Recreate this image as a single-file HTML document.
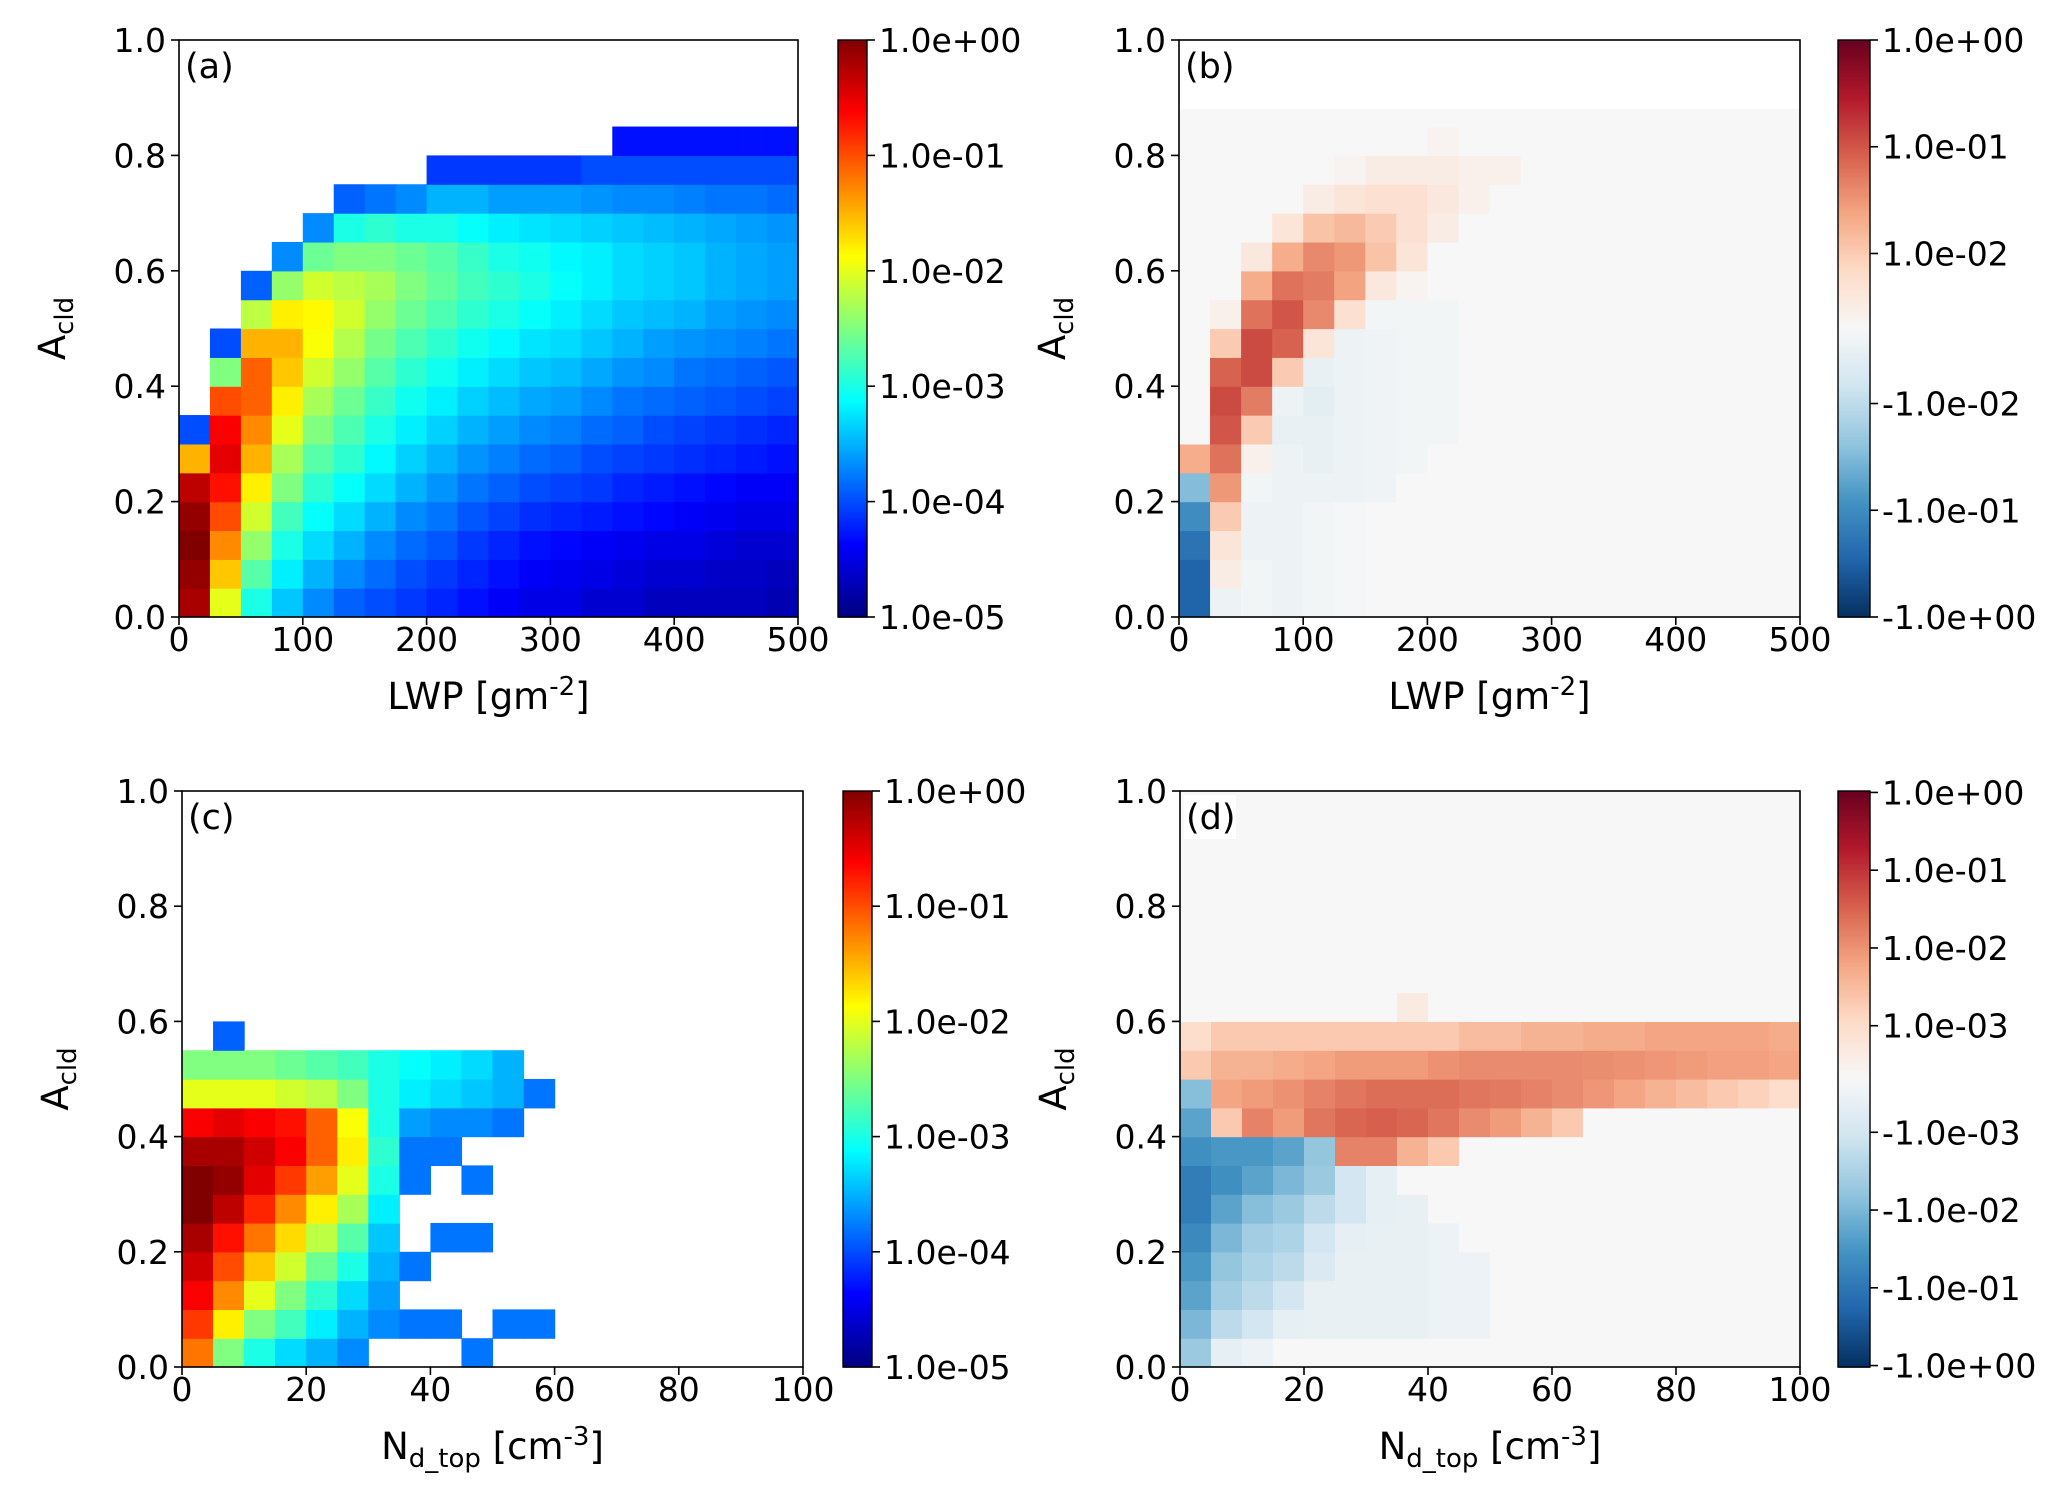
<!DOCTYPE html>
<html><head><meta charset="utf-8"><style>
html,body{margin:0;padding:0;background:#fff}
svg{display:block}
text{font-family:"DejaVu Sans","Liberation Sans",sans-serif;fill:#000}
</style></head><body>
<svg id="fig" width="2067" height="1509" viewBox="0 0 2067 1509" xmlns="http://www.w3.org/2000/svg"></svg>
<script>
// ---------- DATA ----------
// Panel (a): log10 density, columns of LWP bins (25 g/m2 wide), rows of A_cld bins (0.05) from bottom
const aXTicks=[0,100,200,300,400,500];
const aCols=[
[-0.2,-0.1,0,-0.1,-0.3,-1.5,-4.0],
[-2.0,-1.6,-1.3,-1.0,-0.7,-0.5,-0.6,-1.0,-2.5,-4.0],
[-3.0,-2.7,-2.4,-2.1,-1.8,-1.5,-1.3,-1.1,-1.1,-1.5,-2.2,-3.9],
[-3.4,-3.2,-3.0,-2.8,-2.5,-2.3,-2.0,-1.8,-1.6,-1.5,-1.8,-2.4,-3.7],
[-3.7,-3.5,-3.3,-3.1,-2.9,-2.7,-2.5,-2.3,-2.1,-1.9,-1.85,-2.1,-2.6,-3.7],
[-3.9,-3.7,-3.5,-3.3,-3.1,-2.9,-2.75,-2.6,-2.4,-2.25,-2.1,-2.2,-2.5,-3.0,-3.9],
[-4.0,-3.85,-3.7,-3.5,-3.3,-3.15,-3.0,-2.85,-2.7,-2.55,-2.4,-2.3,-2.5,-2.9,-3.8],
[-4.1,-4.0,-3.85,-3.7,-3.5,-3.35,-3.2,-3.05,-2.9,-2.75,-2.6,-2.5,-2.6,-3.0,-3.7],
[-4.2,-4.1,-3.95,-3.8,-3.65,-3.5,-3.35,-3.2,-3.05,-2.9,-2.75,-2.65,-2.7,-3.0,-3.5,-4.1],
[-4.3,-4.2,-4.1,-3.95,-3.8,-3.65,-3.5,-3.35,-3.2,-3.05,-2.9,-2.8,-2.85,-3.1,-3.5,-4.1],
[-4.4,-4.3,-4.2,-4.05,-3.9,-3.75,-3.6,-3.45,-3.3,-3.15,-3.0,-2.9,-3.0,-3.2,-3.6,-4.1],
[-4.5,-4.4,-4.3,-4.15,-4.0,-3.85,-3.7,-3.55,-3.4,-3.25,-3.1,-3.0,-3.05,-3.25,-3.6,-4.1],
[-4.5,-4.45,-4.35,-4.2,-4.05,-3.9,-3.75,-3.6,-3.45,-3.3,-3.2,-3.1,-3.15,-3.3,-3.6,-4.1],
[-4.6,-4.5,-4.4,-4.25,-4.1,-4.0,-3.85,-3.7,-3.55,-3.4,-3.3,-3.2,-3.2,-3.35,-3.65,-4.0],
[-4.6,-4.55,-4.45,-4.3,-4.2,-4.05,-3.9,-3.8,-3.65,-3.5,-3.4,-3.3,-3.3,-3.4,-3.7,-4.0,-4.3],
[-4.7,-4.6,-4.5,-4.35,-4.25,-4.1,-4.0,-3.85,-3.7,-3.6,-3.45,-3.35,-3.35,-3.45,-3.7,-4.0,-4.3],
[-4.7,-4.6,-4.5,-4.4,-4.3,-4.15,-4.05,-3.9,-3.8,-3.65,-3.5,-3.4,-3.4,-3.5,-3.75,-4.0,-4.3],
[-4.7,-4.65,-4.55,-4.45,-4.35,-4.2,-4.1,-3.95,-3.85,-3.7,-3.6,-3.5,-3.5,-3.55,-3.8,-4.0,-4.3],
[-4.7,-4.65,-4.6,-4.5,-4.4,-4.25,-4.15,-4.0,-3.9,-3.75,-3.65,-3.55,-3.55,-3.6,-3.8,-4.0,-4.3],
[-4.75,-4.7,-4.6,-4.5,-4.4,-4.3,-4.2,-4.05,-3.95,-3.8,-3.7,-3.6,-3.6,-3.65,-3.85,-4.0,-4.3]
];
// Panel (b): difference values, LWP bins 25 wide, A_cld bins 0.05
const bCols=[
[-0.3,-0.3,-0.2,-0.1,-0.03,0.02,0,0,0,0,0,0,0,0,0,0,0,0],
[-0.002,0.003,0.005,0.01,0.03,0.06,0.1,0.12,0.08,0.01,0.002,0,0,0,0,0,0,0],
[-0.001,-0.001,-0.002,-0.002,-0.001,0.002,0.01,0.05,0.12,0.12,0.06,0.02,0.004,0,0,0,0,0],
[-0.002,-0.002,-0.002,-0.002,-0.002,-0.002,-0.003,-0.002,0.01,0.08,0.1,0.06,0.02,0.005,0,0,0,0],
[-0.001,-0.001,-0.001,-0.001,-0.002,-0.003,-0.003,-0.004,-0.003,0.005,0.04,0.05,0.04,0.012,0.003,0,0,0],
[-0.0005,-0.0005,-0.0005,-0.0005,-0.002,-0.002,-0.002,-0.002,-0.002,-0.002,0.006,0.025,0.03,0.015,0.005,0.001,0,0],
[0,0,0,0,-0.0015,-0.0015,-0.0015,-0.0015,-0.0015,-0.0015,-0.001,0.004,0.012,0.01,0.006,0.003,0,0],
[0,0,0,0,0,-0.001,-0.001,-0.001,-0.001,-0.001,-0.001,0.001,0.005,0.006,0.006,0.003,0,0],
[0,0,0,0,0,0,-0.001,-0.001,-0.001,-0.001,-0.001,0,0,0.003,0.004,0.003,0.001,0],
[0,0,0,0,0,0,0,0,0,0,0,0,0,0,0.002,0.002,0,0],
[0,0,0,0,0,0,0,0,0,0,0,0,0,0,0,0.002,0,0],
[0,0,0,0,0,0,0,0,0,0,0,0,0,0,0,0,0,0],
[0,0,0,0,0,0,0,0,0,0,0,0,0,0,0,0,0,0],
[0,0,0,0,0,0,0,0,0,0,0,0,0,0,0,0,0,0],
[0,0,0,0,0,0,0,0,0,0,0,0,0,0,0,0,0,0],
[0,0,0,0,0,0,0,0,0,0,0,0,0,0,0,0,0,0],
[0,0,0,0,0,0,0,0,0,0,0,0,0,0,0,0,0,0],
[0,0,0,0,0,0,0,0,0,0,0,0,0,0,0,0,0,0],
[0,0,0,0,0,0,0,0,0,0,0,0,0,0,0,0,0,0],
[0,0,0,0,0,0,0,0,0,0,0,0,0,0,0,0,0,0]
];
// Panel (c): log10 density, N_d_top bins (5 cm-3), A_cld bins 0.05
const cXTicks=[0,20,40,60,80,100];
const cCols=[
[-1.2,-0.9,-0.6,-0.4,-0.2,0,0,-0.2,-0.6,-2.0,-2.5,null],
[-2.5,-1.8,-1.3,-1.0,-0.7,-0.3,-0.1,-0.2,-0.5,-2.0,-2.5,-3.9],
[-3.0,-2.5,-2.0,-1.6,-1.2,-0.8,-0.5,-0.4,-0.6,-2.0,-2.5,null],
[-3.3,-2.8,-2.5,-2.1,-1.7,-1.3,-0.9,-0.6,-0.7,-2.1,-2.6,null],
[-3.5,-3.2,-2.9,-2.6,-2.2,-1.8,-1.4,-1.1,-1.1,-2.2,-2.7,null],
[-3.7,-3.5,-3.3,-3.0,-2.7,-2.3,-2.0,-1.8,-1.9,-2.5,-2.8,null],
[null,-3.7,-3.6,-3.5,-3.4,-3.2,-3.0,-2.9,-3.0,-3.0,-3.0,null],
[null,-3.8,null,-3.8,null,null,-3.8,-3.8,-3.6,-3.2,-3.1,null],
[null,-3.8,null,null,-3.8,null,null,-3.8,-3.7,-3.3,-3.2,null],
[-3.8,null,null,null,-3.8,null,-3.8,null,-3.7,-3.4,-3.3,null],
[null,-3.8,null,null,null,null,null,null,-3.8,-3.5,-3.5,null],
[null,-3.8,null,null,null,null,null,null,null,-3.8,null,null]
];
// Panel (d): difference values, N_d_top bins (5), A_cld bins 0.05 (20 rows)
const dCols=[
[-0.005,-0.01,-0.02,-0.03,-0.05,-0.08,-0.08,-0.04,-0.02,-0.008,0.002,0.001,0,0,0,0,0,0,0,0],
[-0.0005,-0.002,-0.004,-0.006,-0.01,-0.02,-0.04,-0.03,0.002,0.006,0.004,0.002,0,0,0,0,0,0,0,0],
[-0.0003,-0.001,-0.002,-0.003,-0.004,-0.008,-0.02,-0.03,0.015,0.008,0.004,0.002,0,0,0,0,0,0,0,0],
[0,-0.0005,-0.001,-0.002,-0.003,-0.005,-0.01,-0.02,0.008,0.01,0.005,0.002,0,0,0,0,0,0,0,0],
[0,-0.0004,-0.0004,-0.0008,-0.001,-0.002,-0.005,-0.006,0.02,0.015,0.006,0.002,0,0,0,0,0,0,0,0],
[0,-0.0004,-0.0004,-0.0004,-0.0005,-0.001,-0.001,0.015,0.03,0.02,0.008,0.002,0,0,0,0,0,0,0,0],
[0,-0.0004,-0.0004,-0.0004,-0.0004,-0.0005,-0.0005,0.015,0.035,0.025,0.008,0.002,0,0,0,0,0,0,0,0],
[0,-0.0004,-0.0004,-0.0004,-0.0004,-0.0004,0,0.004,0.03,0.025,0.008,0.002,0.0005,0,0,0,0,0,0,0],
[0,-0.0003,-0.0003,-0.0003,-0.0003,0,0,0.002,0.02,0.025,0.01,0.002,0,0,0,0,0,0,0,0],
[0,-0.0003,-0.0003,-0.0003,0,0,0,0,0.012,0.02,0.012,0.003,0,0,0,0,0,0,0,0],
[0,0,0,0,0,0,0,0,0.008,0.018,0.012,0.003,0,0,0,0,0,0,0,0],
[0,0,0,0,0,0,0,0,0.004,0.015,0.012,0.004,0,0,0,0,0,0,0,0],
[0,0,0,0,0,0,0,0,0.002,0.012,0.012,0.004,0,0,0,0,0,0,0,0],
[0,0,0,0,0,0,0,0,0,0.009,0.011,0.005,0,0,0,0,0,0,0,0],
[0,0,0,0,0,0,0,0,0,0.006,0.01,0.005,0,0,0,0,0,0,0,0],
[0,0,0,0,0,0,0,0,0,0.004,0.009,0.006,0,0,0,0,0,0,0,0],
[0,0,0,0,0,0,0,0,0,0.003,0.008,0.006,0,0,0,0,0,0,0,0],
[0,0,0,0,0,0,0,0,0,0.002,0.007,0.006,0,0,0,0,0,0,0,0],
[0,0,0,0,0,0,0,0,0,0.0015,0.007,0.006,0,0,0,0,0,0,0,0],
[0,0,0,0,0,0,0,0,0,0.001,0.006,0.005,0,0,0,0,0,0,0,0]
];
const yTicks=[0,0.2,0.4,0.6,0.8,1.0];
const logCbTicks=[0,-1,-2,-3,-4,-5];
const logCbLabels=["1.0e+00","1.0e-01","1.0e-02","1.0e-03","1.0e-04","1.0e-05"];
const bCbTicks=[1,0.1,0.01,-0.01,-0.1,-1];
const bCbLabels=["1.0e+00","1.0e-01","1.0e-02","-1.0e-02","-1.0e-01","-1.0e+00"];
const dCbTicks=[1,0.1,0.01,0.001,-0.001,-0.01,-0.1,-1];
const dCbLabels=["1.0e+00","1.0e-01","1.0e-02","1.0e-03","-1.0e-03","-1.0e-02","-1.0e-01","-1.0e+00"];

// ---------- HELPERS ----------
const NS="http://www.w3.org/2000/svg";
const svg=document.getElementById('fig');
function mk(tag,attrs,parent){const e=document.createElementNS(NS,tag);for(const k in attrs)e.setAttribute(k,attrs[k]);(parent||svg).appendChild(e);return e;}
function clamp(v){return Math.max(0,Math.min(1,v));}
function jet(t){t=clamp(t);const r=clamp(1.5-Math.abs(4*t-3)),g=clamp(1.5-Math.abs(4*t-2)),b=clamp(1.5-Math.abs(4*t-1));return `rgb(${Math.round(r*255)},${Math.round(g*255)},${Math.round(b*255)})`;}
const rdbu=["#053061","#2166ac","#4393c3","#92c5de","#d1e5f0","#f7f7f7","#fddbc7","#f4a582","#d6604d","#b2182b","#67001f"];
function hex(h){return [parseInt(h.substr(1,2),16),parseInt(h.substr(3,2),16),parseInt(h.substr(5,2),16)];}
function rdbuR(t){t=clamp(t)*10;const i=Math.min(9,Math.floor(t)),f=t-i;const a=hex(rdbu[i]),b=hex(rdbu[i+1]);return `rgb(${a.map((v,k)=>Math.round(v+(b[k]-v)*f)).join(',')})`;}
function logNorm(v){return (v+5)/5;}
function symNorm(lin,half,dec){return function(v){const s=Math.sign(v),a=Math.abs(v);if(a<=lin)return 0.5+v/lin*half;return 0.5+s*(half+dec*Math.log10(a/lin));};}
const bNorm=symNorm(0.01,0.13,0.185);
const dNorm=symNorm(0.001,0.0925,0.135);

function panel(o){
  const g=mk('g',{});
  
  
  const W=o.x1-o.x0,H=o.y1-o.y0;
  const sx=v=>o.x0+v/o.xmax*W, sy=v=>o.y1-v*H;
  if(o.bg){const r=mk('rect',{x:sx(o.bgX0),y:sy(o.bgTop),width:sx(o.xmax)-sx(o.bgX0),height:sy(0)-sy(o.bgTop),fill:o.bg},g);}
  const cells=mk('g',{},g);
  
  
  o.cols.forEach((col,ci)=>{col.forEach((v,ri)=>{
    if(v===null||v===undefined)return;
    const xa=sx(ci*o.dx),xb=sx((ci+1)*o.dx);
    const ya=sy(Math.min((ri+1)*o.dy,o.yClip)),yb=sy(ri*o.dy);
    const r=mk('rect',{x:xa,y:ya,width:xb-xa+0.6,height:yb-ya+0.6,fill:o.cmap(o.norm(v))},cells);
    
    
  });});
  const fr=mk('rect',{x:o.x0,y:o.y0,width:W,height:H,fill:'none',stroke:'#000','stroke-width':1.6},g);
  
  
  o.xTicks.forEach(t=>{const x=sx(t);
    mk('line',{x1:x,y1:o.y1,x2:x,y2:o.y1+8,stroke:'#000','stroke-width':1.6},g);
    const tx=mk('text',{x:x,y:o.y1+34,'text-anchor':'middle','font-size':33},g);tx.textContent=String(t);
    
    
  });
  yTicks.forEach(t=>{const y=sy(t);
    mk('line',{x1:o.x0-8,y1:y,x2:o.x0,y2:y,stroke:'#000','stroke-width':1.6},g);
    const tx=mk('text',{x:o.x0-13,y:y+12,'text-anchor':'end','font-size':33},g);tx.textContent=t.toFixed(1);
    
    
  });
  const lb=mk('rect',{x:o.x0+4,y:o.y0+4,width:52,height:44,fill:'#fff'},g);
  
  
  const lt=mk('text',{x:o.x0+6,y:o.y0+38,'font-size':35},g);lt.textContent=o.letter;
  
  
  const yl=mk('text',{transform:`translate(${o.x0-114},${(o.y0+o.y1)/2}) rotate(-90)`,'text-anchor':'middle','font-size':37},g);
  yl.innerHTML='A<tspan font-size="26" dy="8">cld</tspan>';
  
  
  const xl=mk('text',{x:(o.x0+o.x1)/2,y:o.y1+92,'text-anchor':'middle','font-size':37},g);
  xl.innerHTML=o.xlabel;
  
  
  const cb=mk('g',{},g);
  
  
  const N=240;
  for(let i=0;i<N;i++){const t=i/N;mk('rect',{x:o.cbx,y:o.y1-(i+1)/N*H,width:o.cbw,height:H/N+0.8,fill:o.cmap(t)},cb);}
  mk('rect',{x:o.cbx,y:o.y0,width:o.cbw,height:H,fill:'none',stroke:'#000','stroke-width':1.4},cb);
  o.cbTicks.forEach((t,i)=>{const y=o.y1-o.norm(t)*H;
    mk('line',{x1:o.cbx+o.cbw,y1:y,x2:o.cbx+o.cbw+8,y2:y,stroke:'#000','stroke-width':1.6},cb);
    const tx=mk('text',{x:o.cbx+o.cbw+12,y:y+12,'font-size':33},cb);tx.textContent=o.cbLabels[i];
    
    
  });
}
const lwp='LWP [gm<tspan font-size="26" dy="-14">-2</tspan><tspan dy="14">]</tspan>';
const nd='N<tspan font-size="26" dy="8">d_top</tspan><tspan dy="-8"> [cm</tspan><tspan font-size="26" dy="-14">-3</tspan><tspan dy="14">]</tspan>';
panel({name:'panel-a',letter:'(a)',x0:179,x1:798,y0:40,y1:617,xmax:500,dx:25,dy:0.05,yClip:1,cols:aCols,cmap:jet,norm:logNorm,xTicks:aXTicks,xlabel:lwp,cbx:838,cbw:29,cbTicks:logCbTicks,cbLabels:logCbLabels});
panel({name:'panel-b',letter:'(b)',x0:1179,x1:1800,y0:40,y1:617,xmax:500,dx:25,dy:0.05,yClip:0.88,cols:bCols,cmap:rdbuR,norm:bNorm,xTicks:aXTicks,xlabel:lwp,cbx:1838,cbw:32,cbTicks:bCbTicks,cbLabels:bCbLabels,bg:'#f5f5f5',bgX0:5,bgTop:0.88});
panel({name:'panel-c',letter:'(c)',x0:182,x1:803,y0:791,y1:1367,xmax:100,dx:5,dy:0.05,yClip:1,cols:cCols,cmap:jet,norm:logNorm,xTicks:cXTicks,xlabel:nd,cbx:843,cbw:29,cbTicks:logCbTicks,cbLabels:logCbLabels});
panel({name:'panel-d',letter:'(d)',x0:1180,x1:1800,y0:791,y1:1367,xmax:100,dx:5,dy:0.05,yClip:1,cols:dCols,cmap:rdbuR,norm:dNorm,xTicks:cXTicks,xlabel:nd,cbx:1838,cbw:32,cbTicks:dCbTicks,cbLabels:dCbLabels,bg:'#f5f5f5',bgX0:0,bgTop:1});
</script>
</body></html>
